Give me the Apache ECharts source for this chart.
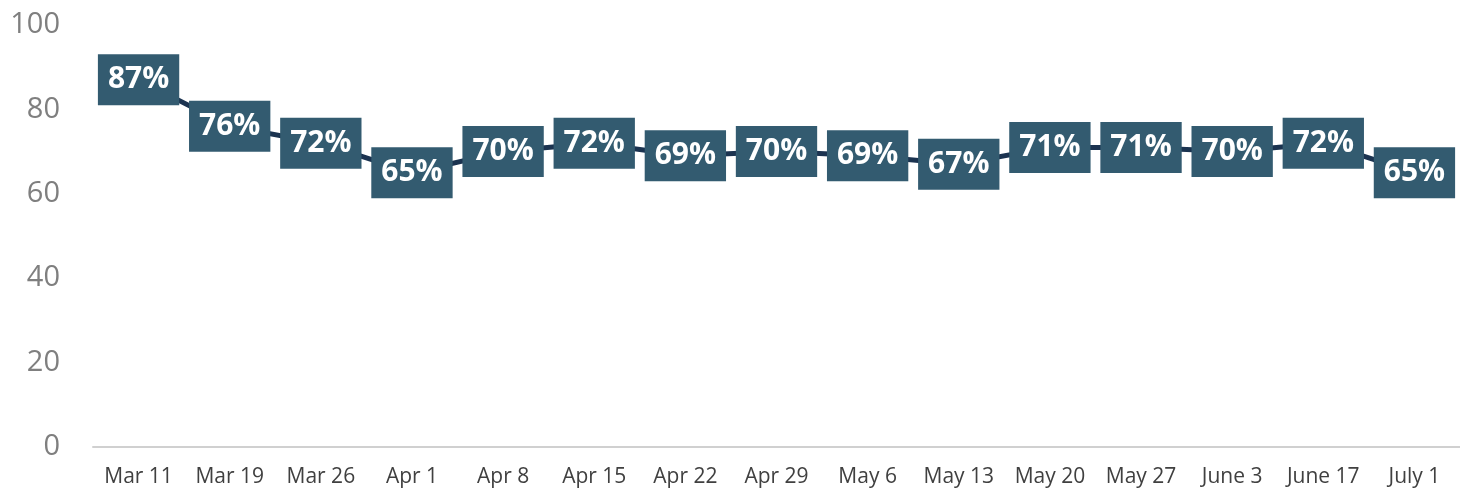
<!DOCTYPE html>
<html><head><meta charset="utf-8">
<script src="https://cdn.jsdelivr.net/npm/echarts@6/dist/echarts.min.js"></script>
<style>html,body{margin:0;padding:0;background:#fff}#c{width:1460px;height:497px}</style>
</head><body><div id="c"></div>
<script>
const categories = ["Mar 11","Mar 19","Mar 26","Apr 1","Apr 8","Apr 15","Apr 22","Apr 29","May 6","May 13","May 20","May 27","June 3","June 17","July 1"];
const values = [87,76,72,65,70,72,69,70,69,67,71,71,70,72,65];
const yTicks = [0,20,40,60,80,100];

const chart = echarts.init(document.getElementById('c'));
chart.setOption({
  animation: false,
  grid: {left: 93, right: 0, top: 25, bottom: 50},
  xAxis: {
    type: 'category', data: categories, boundaryGap: true,
    axisLine: {lineStyle: {color: '#d0d0d0', width: 2}},
    axisTick: {show: false},
    axisLabel: {color: '#404040', fontSize: 21, fontFamily: 'Open Sans', margin: 20, interval: 0}
  },
  yAxis: {
    type: 'value', min: yTicks[0], max: yTicks[yTicks.length-1], interval: 20,
    splitLine: {show: false},
    axisLine: {show: false}, axisTick: {show: false},
    axisLabel: {color: '#7f7f7f', fontSize: 29, fontFamily: 'Open Sans', margin: 33}
  },
  series: [{
    type: 'line', data: values, symbol: 'circle', symbolSize: 1, showSymbol: true,
    itemStyle: {color: '#1b3350'},
    lineStyle: {color: '#1b3350', width: 5},
    label: {
      show: true, position: 'inside', formatter: '{c}%',
      backgroundColor: '#335b70', color: '#fff', fontWeight: 'bold',
      fontSize: 30, lineHeight: 32, fontFamily: 'Open Sans', padding: [12, 10, 7, 10]
    }
  }]
});
</script></body></html>
